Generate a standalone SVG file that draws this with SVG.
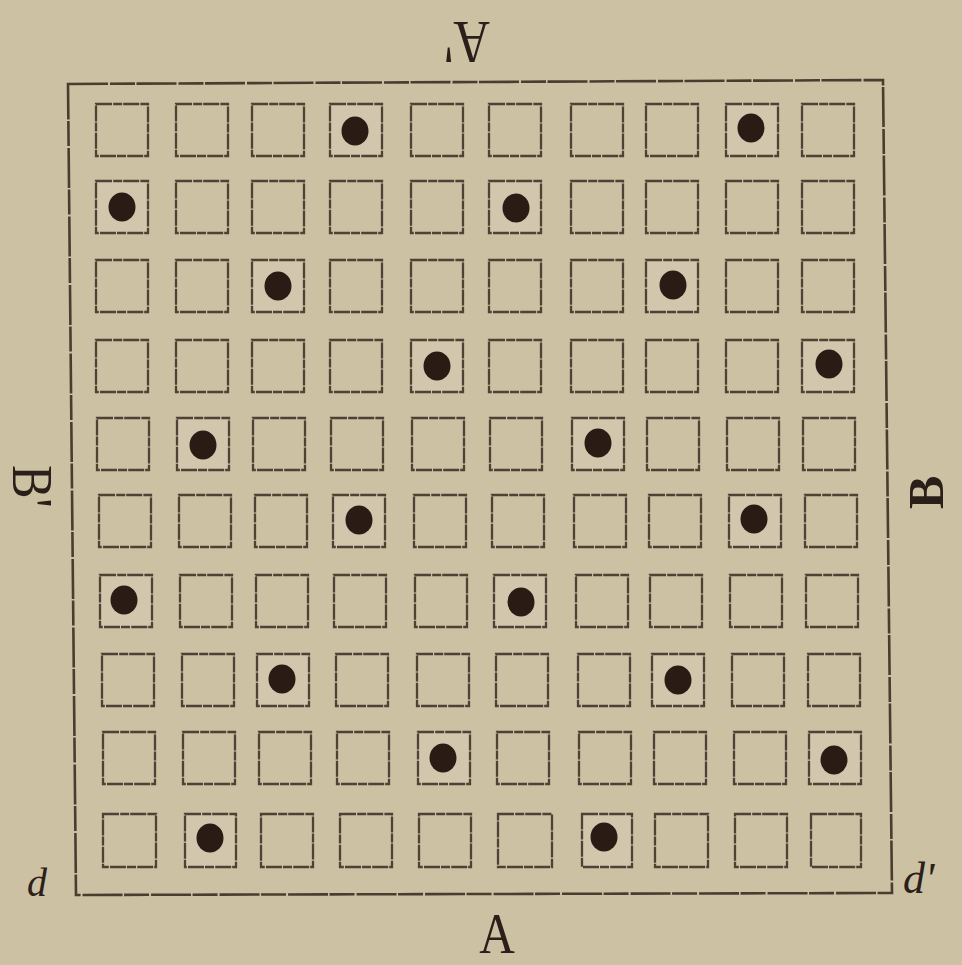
<svg xmlns="http://www.w3.org/2000/svg" width="962" height="965" viewBox="0 0 962 965">
<style>
.bg{fill:#cdc1a4}
.frame{fill:none;stroke:#4a3d2f;stroke-width:2.6;stroke-linejoin:miter;stroke-dasharray:40 2 25 1.5}
.cell{fill:none;stroke:#4f4234;stroke-width:2.3;stroke-dasharray:16 1.2 9 1}
.hot{fill:#d2c7ad}
.dot{fill:#2a1b15}
.lbl{font-family:"Liberation Serif","DejaVu Serif",serif;fill:#2b2019}
</style>
<rect class="bg" x="0" y="0" width="962" height="965"/>
<g id="frame"><polygon class="frame" points="68,84 883,80 892,893 76,895"/></g>
<g id="labels">
<text class="lbl" font-size="62" text-anchor="middle" transform="translate(467,22) rotate(180) scale(0.82,1)">A'</text>
<text class="lbl" font-size="56" transform="translate(13,465) rotate(90) scale(0.9,1)">B'</text>
<text class="lbl" font-size="50" font-weight="bold" transform="translate(943,509) rotate(-90)">B</text>
<text class="lbl" font-size="58" text-anchor="middle" transform="translate(497,953) scale(0.85,1)">A</text>
<text class="lbl" font-size="40" font-style="italic" x="27" y="896">d</text>
<text class="lbl" font-size="44" font-style="italic" x="903" y="893">d'</text>
</g>
<g id="grid">
<g id="r0"><rect class="cell" x="96" y="104" width="52" height="52"/><rect class="cell" x="176" y="104" width="52" height="52"/><rect class="cell" x="252" y="104" width="52" height="52"/><rect class="cell hot" x="330" y="104" width="52" height="52"/><rect class="cell" x="411" y="104" width="52" height="52"/><rect class="cell" x="489" y="104" width="52" height="52"/><rect class="cell" x="571" y="104" width="52" height="52"/><rect class="cell" x="646" y="104" width="52" height="52"/><rect class="cell hot" x="726" y="104" width="52" height="52"/><rect class="cell" x="802" y="104" width="52" height="52"/></g>
<g id="r1"><rect class="cell hot" x="96" y="181" width="52" height="52"/><rect class="cell" x="176" y="181" width="52" height="52"/><rect class="cell" x="252" y="181" width="52" height="52"/><rect class="cell" x="330" y="181" width="52" height="52"/><rect class="cell" x="411" y="181" width="52" height="52"/><rect class="cell hot" x="489" y="181" width="52" height="52"/><rect class="cell" x="571" y="181" width="52" height="52"/><rect class="cell" x="646" y="181" width="52" height="52"/><rect class="cell" x="726" y="181" width="52" height="52"/><rect class="cell" x="802" y="181" width="52" height="52"/></g>
<g id="r2"><rect class="cell" x="96" y="260" width="52" height="52"/><rect class="cell" x="176" y="260" width="52" height="52"/><rect class="cell hot" x="252" y="260" width="52" height="52"/><rect class="cell" x="330" y="260" width="52" height="52"/><rect class="cell" x="411" y="260" width="52" height="52"/><rect class="cell" x="489" y="260" width="52" height="52"/><rect class="cell" x="571" y="260" width="52" height="52"/><rect class="cell hot" x="646" y="260" width="52" height="52"/><rect class="cell" x="726" y="260" width="52" height="52"/><rect class="cell" x="802" y="260" width="52" height="52"/></g>
<g id="r3"><rect class="cell" x="96" y="340" width="52" height="52"/><rect class="cell" x="176" y="340" width="52" height="52"/><rect class="cell" x="252" y="340" width="52" height="52"/><rect class="cell" x="330" y="340" width="52" height="52"/><rect class="cell hot" x="411" y="340" width="52" height="52"/><rect class="cell" x="489" y="340" width="52" height="52"/><rect class="cell" x="571" y="340" width="52" height="52"/><rect class="cell" x="646" y="340" width="52" height="52"/><rect class="cell" x="726" y="340" width="52" height="52"/><rect class="cell hot" x="802" y="340" width="52" height="52"/></g>
<g id="r4"><rect class="cell" x="97" y="418" width="52" height="52"/><rect class="cell hot" x="177" y="418" width="52" height="52"/><rect class="cell" x="253" y="418" width="52" height="52"/><rect class="cell" x="331" y="418" width="52" height="52"/><rect class="cell" x="412" y="418" width="52" height="52"/><rect class="cell" x="490" y="418" width="52" height="52"/><rect class="cell hot" x="572" y="418" width="52" height="52"/><rect class="cell" x="647" y="418" width="52" height="52"/><rect class="cell" x="727" y="418" width="52" height="52"/><rect class="cell" x="803" y="418" width="52" height="52"/></g>
<g id="r5"><rect class="cell" x="99" y="495" width="52" height="52"/><rect class="cell" x="179" y="495" width="52" height="52"/><rect class="cell" x="255" y="495" width="52" height="52"/><rect class="cell hot" x="333" y="495" width="52" height="52"/><rect class="cell" x="414" y="495" width="52" height="52"/><rect class="cell" x="492" y="495" width="52" height="52"/><rect class="cell" x="574" y="495" width="52" height="52"/><rect class="cell" x="649" y="495" width="52" height="52"/><rect class="cell hot" x="729" y="495" width="52" height="52"/><rect class="cell" x="805" y="495" width="52" height="52"/></g>
<g id="r6"><rect class="cell hot" x="100" y="575" width="52" height="52"/><rect class="cell" x="180" y="575" width="52" height="52"/><rect class="cell" x="256" y="575" width="52" height="52"/><rect class="cell" x="334" y="575" width="52" height="52"/><rect class="cell" x="415" y="575" width="52" height="52"/><rect class="cell hot" x="494" y="575" width="52" height="52"/><rect class="cell" x="576" y="575" width="52" height="52"/><rect class="cell" x="650" y="575" width="52" height="52"/><rect class="cell" x="730" y="575" width="52" height="52"/><rect class="cell" x="806" y="575" width="52" height="52"/></g>
<g id="r7"><rect class="cell" x="102" y="654" width="52" height="52"/><rect class="cell" x="182" y="654" width="52" height="52"/><rect class="cell hot" x="257" y="654" width="52" height="52"/><rect class="cell" x="336" y="654" width="52" height="52"/><rect class="cell" x="417" y="654" width="52" height="52"/><rect class="cell" x="496" y="654" width="52" height="52"/><rect class="cell" x="578" y="654" width="52" height="52"/><rect class="cell hot" x="652" y="654" width="52" height="52"/><rect class="cell" x="732" y="654" width="52" height="52"/><rect class="cell" x="808" y="654" width="52" height="52"/></g>
<g id="r8"><rect class="cell" x="103" y="732" width="52" height="52"/><rect class="cell" x="183" y="732" width="52" height="52"/><rect class="cell" x="259" y="732" width="52" height="52"/><rect class="cell" x="337" y="732" width="52" height="52"/><rect class="cell hot" x="418" y="732" width="52" height="52"/><rect class="cell" x="497" y="732" width="52" height="52"/><rect class="cell" x="579" y="732" width="52" height="52"/><rect class="cell" x="654" y="732" width="52" height="52"/><rect class="cell" x="734" y="732" width="52" height="52"/><rect class="cell hot" x="809" y="732" width="52" height="52"/></g>
<g id="r9"><rect class="cell" x="103" y="814" width="53" height="53"/><rect class="cell hot" x="185" y="814" width="51" height="53"/><rect class="cell" x="261" y="814" width="52" height="53"/><rect class="cell" x="340" y="814" width="52" height="53"/><rect class="cell" x="419" y="814" width="52" height="53"/><rect class="cell" x="498" y="814" width="54" height="53"/><rect class="cell hot" x="582" y="814" width="50" height="53"/><rect class="cell" x="655" y="814" width="53" height="53"/><rect class="cell" x="735" y="814" width="52" height="53"/><rect class="cell" x="811" y="814" width="50" height="53"/></g>
</g>
<g id="dots">
<ellipse class="dot" cx="355" cy="131" rx="13.5" ry="14.5"/><ellipse class="dot" cx="751" cy="128" rx="13.5" ry="14.5"/>
<ellipse class="dot" cx="122" cy="207" rx="13.5" ry="14.5"/><ellipse class="dot" cx="516" cy="208" rx="13.5" ry="14.5"/>
<ellipse class="dot" cx="278" cy="286" rx="13.5" ry="14.5"/><ellipse class="dot" cx="673" cy="285" rx="13.5" ry="14.5"/>
<ellipse class="dot" cx="437" cy="366" rx="13.5" ry="14.5"/><ellipse class="dot" cx="829" cy="364" rx="13.5" ry="14.5"/>
<ellipse class="dot" cx="203" cy="445" rx="13.5" ry="14.5"/><ellipse class="dot" cx="598" cy="443" rx="13.5" ry="14.5"/>
<ellipse class="dot" cx="359" cy="520" rx="13.5" ry="14.5"/><ellipse class="dot" cx="754" cy="519" rx="13.5" ry="14.5"/>
<ellipse class="dot" cx="124" cy="600" rx="13.5" ry="14.5"/><ellipse class="dot" cx="521" cy="602" rx="13.5" ry="14.5"/>
<ellipse class="dot" cx="282" cy="679" rx="13.5" ry="14.5"/><ellipse class="dot" cx="678" cy="680" rx="13.5" ry="14.5"/>
<ellipse class="dot" cx="443" cy="758" rx="13.5" ry="14.5"/><ellipse class="dot" cx="834" cy="760" rx="13.5" ry="14.5"/>
<ellipse class="dot" cx="210" cy="838" rx="13.5" ry="14.5"/><ellipse class="dot" cx="604" cy="837" rx="13.5" ry="14.5"/>
</g>
</svg>
